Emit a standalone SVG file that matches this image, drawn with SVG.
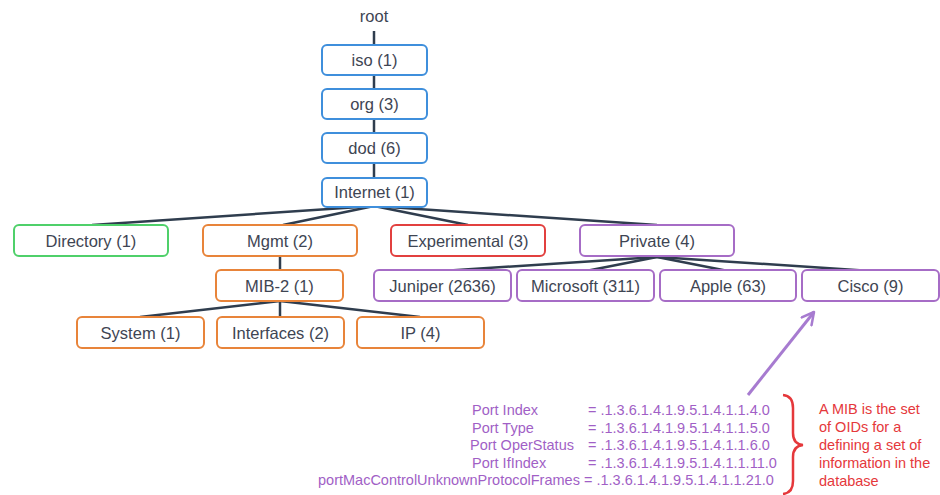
<svg xmlns="http://www.w3.org/2000/svg" width="940" height="495" viewBox="0 0 940 495">
<defs>
<style>
.n rect{fill:#fff;stroke-width:2;rx:5;ry:5}
.blue rect{stroke:#3f8fdc}
.green rect{stroke:#4fd06a}
.orange rect{stroke:#e8843a}
.red rect{stroke:#e2403f}
.purple rect{stroke:#a66cc6}
.n text,.t{font-family:"Liberation Sans",Arial,sans-serif;font-size:16.5px;fill:#3e4553;text-anchor:middle}
.c line,.c path{stroke:#2f3d4e;stroke-width:2.5;fill:none}
.oid{font-family:"Liberation Sans",Arial,sans-serif;font-size:14.5px;fill:#a15fc6}
.note{font-family:"Liberation Sans",Arial,sans-serif;font-size:14.5px;fill:#e5383b}
</style>
<marker id="ah" viewBox="0 0 12 12" refX="10.5" refY="6" markerWidth="5" markerHeight="5" orient="auto" markerUnits="strokeWidth">
<path d="M1,1 L10.5,6 L1,11" fill="none" stroke="#a77bd0" stroke-width="2" stroke-linecap="round" stroke-linejoin="round"/>
</marker>
</defs>
<g id="connectors" class="c">
<line x1="374" y1="31" x2="374" y2="45"/>
<line x1="374" y1="75" x2="374" y2="89"/>
<line x1="374" y1="119" x2="374" y2="133"/>
<line x1="374" y1="163" x2="374" y2="178"/>
<line x1="374" y1="206" x2="92" y2="225"/>
<line x1="374" y1="206" x2="283" y2="225"/>
<line x1="374" y1="206" x2="468" y2="225"/>
<line x1="374" y1="206" x2="657" y2="225"/>
<line x1="280" y1="256" x2="280" y2="270"/>
<line x1="280" y1="301" x2="140" y2="317"/>
<line x1="280" y1="301" x2="280" y2="317"/>
<line x1="280" y1="301" x2="420" y2="317"/>
<line x1="657" y1="257" x2="442" y2="271"/>
<line x1="657" y1="257" x2="586" y2="271"/>
<line x1="657" y1="257" x2="728" y2="271"/>
<line x1="657" y1="257" x2="871" y2="271"/>
</g>
<text id="root" class="t" x="374" y="22">root</text>
<g id="iso" class="n blue"><rect x="322" y="45" width="105" height="30"/><text x="374.5" y="66">iso (1)</text></g>
<g id="org" class="n blue"><rect x="322" y="89" width="105" height="30"/><text x="374.5" y="110">org (3)</text></g>
<g id="dod" class="n blue"><rect x="322" y="133" width="105" height="30"/><text x="374.5" y="154">dod (6)</text></g>
<g id="internet" class="n blue"><rect x="322" y="178" width="105" height="29"/><text x="374.5" y="198">Internet (1)</text></g>
<g id="directory" class="n green"><rect x="14" y="225" width="154" height="31"/><text x="91" y="246.5">Directory (1)</text></g>
<g id="mgmt" class="n orange"><rect x="203" y="225" width="154" height="31"/><text x="280" y="246.5">Mgmt (2)</text></g>
<g id="experimental" class="n red"><rect x="391" y="225" width="154" height="31"/><text x="468" y="246.5">Experimental (3)</text></g>
<g id="private" class="n purple"><rect x="580" y="225" width="154" height="31"/><text x="657" y="246.5">Private (4)</text></g>
<g id="mib2" class="n orange"><rect x="216" y="270" width="127" height="31"/><text x="279.5" y="291.5">MIB-2 (1)</text></g>
<g id="juniper" class="n purple"><rect x="374" y="270" width="137" height="31"/><text x="442.5" y="291.5">Juniper (2636)</text></g>
<g id="microsoft" class="n purple"><rect x="517" y="270" width="137" height="31"/><text x="585.5" y="291.5">Microsoft (311)</text></g>
<g id="apple" class="n purple"><rect x="660" y="270" width="136" height="31"/><text x="728" y="291.5">Apple (63)</text></g>
<g id="cisco" class="n purple"><rect x="802" y="270" width="137" height="31"/><text x="870.5" y="291.5">Cisco (9)</text></g>
<g id="system" class="n orange"><rect x="77" y="317" width="127" height="31"/><text x="140.5" y="338.5">System (1)</text></g>
<g id="interfaces" class="n orange"><rect x="217" y="317" width="127" height="31"/><text x="280.5" y="338.5">Interfaces (2)</text></g>
<g id="ip" class="n orange"><rect x="357" y="317" width="127" height="31"/><text x="420.5" y="338.5">IP (4)</text></g>
<g id="oids">
<text class="oid" x="472" y="415">Port Index</text><text class="oid" x="588" y="415">= .1.3.6.1.4.1.9.5.1.4.1.1.4.0</text>
<text class="oid" x="472" y="432.5">Port Type</text><text class="oid" x="588" y="432.5">= .1.3.6.1.4.1.9.5.1.4.1.1.5.0</text>
<text class="oid" x="470" y="450">Port OperStatus</text><text class="oid" x="588" y="450">= .1.3.6.1.4.1.9.5.1.4.1.1.6.0</text>
<text class="oid" x="472" y="467.5">Port IfIndex</text><text class="oid" x="588" y="467.5">= .1.3.6.1.4.1.9.5.1.4.1.1.11.0</text>
<text class="oid" x="318" y="485">portMacControlUnknownProtocolFrames</text><text class="oid" x="584" y="485">= .1.3.6.1.4.1.9.5.1.4.1.1.21.0</text>
</g>
<line id="arrow" x1="748" y1="395" x2="814" y2="312" stroke="#a77bd0" stroke-width="3" marker-end="url(#ah)"/>
<path id="brace" d="M783,395 Q793,396 793,408 L793,433 Q793,444 803,445 Q793,446 793,457 L793,481 Q793,493 783,494" fill="none" stroke="#e5383b" stroke-width="2.5"/>
<g id="note">
<text class="note" x="819" y="414">A MIB is the set</text>
<text class="note" x="819" y="432">of OIDs for a</text>
<text class="note" x="819" y="450">defining a set of</text>
<text class="note" x="819" y="468">information in the</text>
<text class="note" x="819" y="486">database</text>
</g>
</svg>
